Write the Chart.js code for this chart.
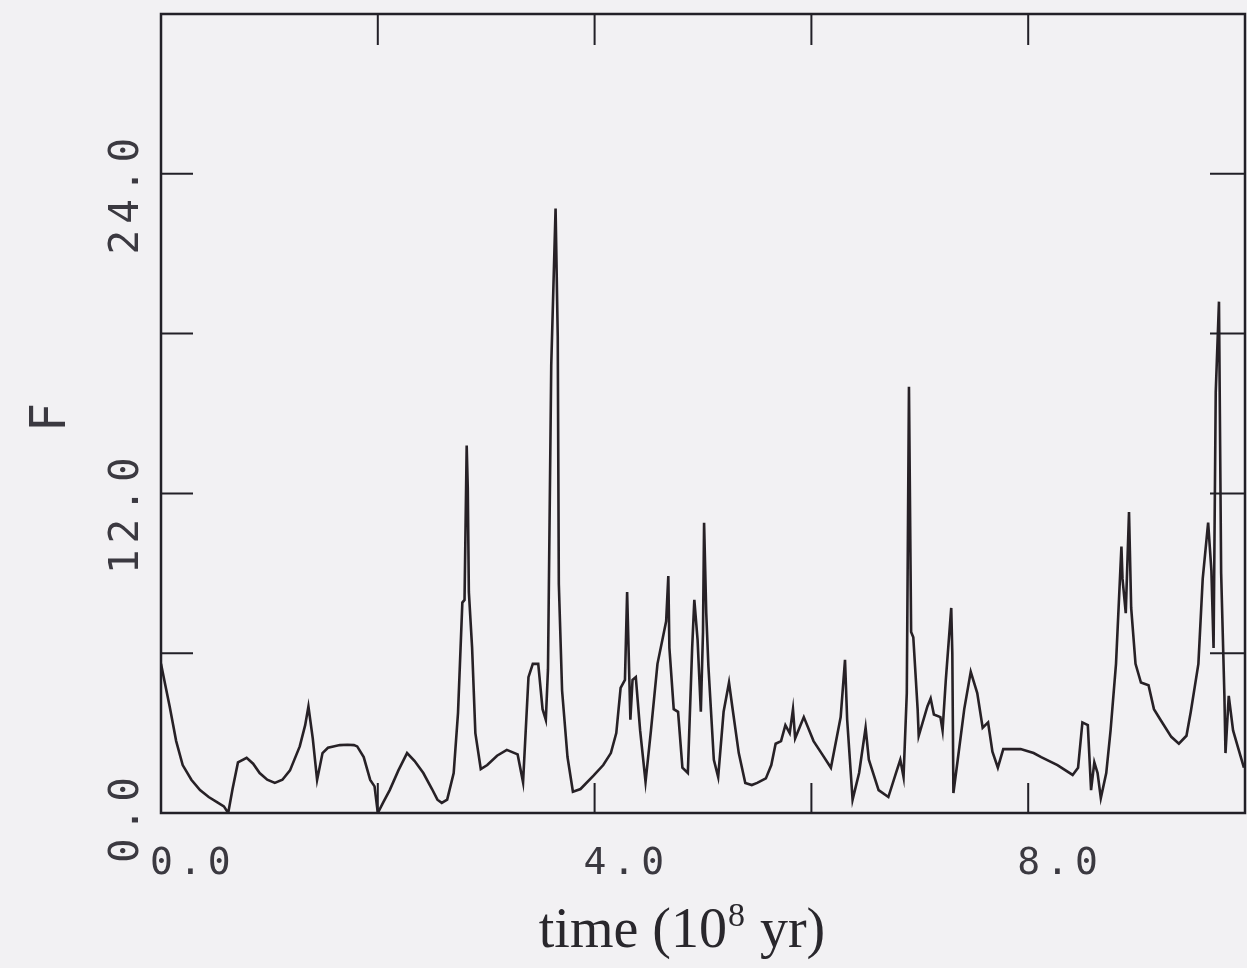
<!DOCTYPE html>
<html>
<head>
<meta charset="utf-8">
<script src="https://cdn.jsdelivr.net/npm/chart.js@4.4.1/dist/chart.umd.min.js"></script>
<style>
html, body { margin: 0; padding: 0; background: #f2f1f3; }
</style>
</head>
<body>
<canvas id="fluxChart" width="1247" height="968"></canvas>
<script>
// time in 10^8 yr, F
var timeVals = [0.00,0.04,0.08,0.14,0.20,0.28,0.36,0.44,0.52,0.58,0.62,0.66,0.71,0.79,0.85,0.91,0.98,1.05,1.12,1.19,
  1.28,1.33,1.36,1.40,1.44,1.49,1.54,1.59,1.65,1.72,1.78,1.81,1.87,1.93,1.97,2.00,2.05,2.11,2.19,2.27,
  2.34,2.42,2.50,2.55,2.59,2.64,2.70,2.74,2.78,2.80,2.82,2.83,2.84,2.87,2.90,2.95,3.01,3.10,3.19,3.29,
  3.34,3.39,3.43,3.48,3.52,3.55,3.57,3.60,3.64,3.66,3.67,3.70,3.75,3.80,3.87,3.99,4.08,4.15,4.20,4.24,
  4.28,4.30,4.33,4.35,4.38,4.42,4.47,4.52,4.58,4.64,4.66,4.68,4.69,4.73,4.77,4.81,4.86,4.90,4.92,4.95,
  4.98,5.00,5.01,5.03,5.05,5.10,5.14,5.19,5.24,5.27,5.33,5.39,5.45,5.50,5.58,5.63,5.67,5.72,5.76,5.80,
  5.83,5.85,5.89,5.93,6.02,6.10,6.18,6.27,6.31,6.33,6.38,6.44,6.50,6.53,6.62,6.71,6.78,6.82,6.85,6.88,
  6.90,6.92,6.94,6.98,6.99,7.07,7.10,7.13,7.19,7.21,7.24,7.29,7.30,7.31,7.35,7.41,7.47,7.53,7.58,7.63,
  7.67,7.72,7.77,7.93,8.05,8.12,8.27,8.41,8.46,8.50,8.55,8.58,8.61,8.64,8.67,8.72,8.76,8.81,8.86,8.87,
  8.90,8.93,8.95,8.99,9.04,9.11,9.16,9.22,9.32,9.39,9.46,9.50,9.57,9.61,9.66,9.69,9.71,9.73,9.76,9.78,
  9.81,9.82,9.85,9.89,9.94,9.99];
var fluxVals = [5.6,4.8,4.0,2.7,1.8,1.25,0.86,0.6,0.4,0.25,0.0,0.9,1.9,2.07,1.85,1.5,1.25,1.13,1.25,1.6,
  2.5,3.3,4.0,2.8,1.24,2.25,2.45,2.5,2.55,2.56,2.55,2.5,2.1,1.24,1.0,0.0,0.4,0.86,1.6,2.25,
  1.95,1.5,0.9,0.5,0.38,0.5,1.5,3.76,7.9,8.0,13.8,12.2,8.3,6.2,3.0,1.65,1.8,2.15,2.37,2.2,
  1.15,5.1,5.6,5.6,3.9,3.5,5.4,16.8,22.7,17.9,8.6,4.6,2.1,0.8,0.9,1.4,1.8,2.25,3.0,4.7,
  5.0,8.3,3.5,5.0,5.1,3.1,1.17,3.1,5.6,6.8,7.2,8.9,6.2,3.9,3.8,1.7,1.5,6.2,8.0,6.5,
  3.8,6.8,10.9,7.5,5.5,2.0,1.35,3.8,4.9,4.0,2.25,1.13,1.05,1.13,1.3,1.8,2.6,2.7,3.3,3.0,
  3.9,2.8,3.2,3.6,2.7,2.2,1.7,3.6,5.75,3.5,0.5,1.5,3.2,2.0,0.86,0.6,1.5,2.0,1.35,4.5,
  16.0,6.8,6.6,3.9,2.9,4.0,4.3,3.7,3.6,3.1,5.0,7.7,6.0,0.75,2.0,3.9,5.3,4.5,3.2,3.4,
  2.3,1.7,2.4,2.4,2.25,2.1,1.8,1.43,1.7,3.4,3.3,0.86,1.9,1.5,0.56,1.5,3.1,5.6,10.0,8.8,
  7.5,11.3,7.7,5.6,4.9,4.8,3.9,3.5,2.86,2.6,2.9,3.8,5.6,8.8,10.9,9.1,6.2,15.8,19.2,9.0,
  4.4,2.25,4.4,3.1,2.4,1.7];

var xTickVals = [2, 4, 6, 8];
var xLabelVals = [0, 4, 8];
var yTickVals = [6, 12, 18, 24];
var yLabelVals = [0, 12, 24];
var xTitle = ['time (10', '8', ' yr)'];
var yTitle = 'F';

var points = timeVals.map(function (t, i) { return { x: t, y: fluxVals[i] }; });

var framePlugin = {
  id: 'framePlugin',
  beforeDraw: function (chart) {
    var ctx = chart.ctx;
    ctx.save();
    ctx.fillStyle = '#f2f1f3';
    ctx.fillRect(0, 0, chart.width, chart.height);
    ctx.restore();
  },
  afterDraw: function (chart) {
    var ctx = chart.ctx, a = chart.chartArea;
    var xs = chart.scales.x, ys = chart.scales.y;
    ctx.save();
    ctx.strokeStyle = '#222027';
    ctx.lineWidth = 2.5;
    ctx.strokeRect(a.left, a.top, a.right - a.left, a.bottom - a.top);

    ctx.lineWidth = 2;
    ctx.beginPath();
    xTickVals.forEach(function (v) {
      var px = xs.getPixelForValue(v);
      ctx.moveTo(px, a.bottom); ctx.lineTo(px, a.bottom - 30);
      ctx.moveTo(px, a.top); ctx.lineTo(px, a.top + 31);
    });
    yTickVals.forEach(function (v) {
      var py = ys.getPixelForValue(v);
      ctx.moveTo(a.left, py); ctx.lineTo(a.left + 32, py);
      ctx.moveTo(a.right, py); ctx.lineTo(a.right - 35, py);
    });
    ctx.stroke();

    // tick labels
    ctx.fillStyle = '#3b3940';
    ctx.font = '38px "DejaVu Sans Mono"';
    ctx.letterSpacing = '6px';
    ctx.textAlign = 'left';
    ctx.textBaseline = 'middle';
    xLabelVals.forEach(function (v) {
      ctx.fillText(v.toFixed(1), xs.getPixelForValue(v) - 11, 864);
    });
    ctx.font = '41px "DejaVu Sans Mono"';
    ctx.textAlign = 'right';
    yLabelVals.forEach(function (v) {
      ctx.save();
      ctx.translate(127, ys.getPixelForValue(v) - 42);
      ctx.rotate(-Math.PI / 2);
      ctx.fillText(v.toFixed(1), 0, 0);
      ctx.restore();
    });
    ctx.letterSpacing = '0px';

    // y title
    ctx.save();
    ctx.translate(52, 417);
    ctx.rotate(-Math.PI / 2);
    ctx.textAlign = 'center';
    ctx.font = '50px "DejaVu Sans"';
    ctx.fillStyle = '#3b3940';
    ctx.fillText(yTitle, 0, 0);
    ctx.restore();

    // x title with superscript
    ctx.fillStyle = '#29272c';
    ctx.textAlign = 'left';
    ctx.textBaseline = 'alphabetic';
    var big = '56px "Liberation Serif"', small = '34px "Liberation Serif"';
    ctx.font = big; var w1 = ctx.measureText(xTitle[0]).width; var w3 = ctx.measureText(xTitle[2]).width;
    ctx.font = small; var w2 = ctx.measureText(xTitle[1]).width;
    var x0 = 682 - (w1 + w2 + 2 + w3) / 2, base = 947;
    ctx.font = big; ctx.fillText(xTitle[0], x0, base);
    ctx.font = small; ctx.fillText(xTitle[1], x0 + w1 + 1, base - 21);
    ctx.font = big; ctx.fillText(xTitle[2], x0 + w1 + w2 + 2, base);
    ctx.restore();
  }
};

new Chart(document.getElementById('fluxChart'), {
  type: 'scatter',
  data: {
    datasets: [{
      data: points,
      showLine: true,
      borderColor: '#272126',
      borderWidth: 2.6,
      pointRadius: 0,
      tension: 0
    }]
  },
  options: {
    responsive: false,
    animation: false,
    devicePixelRatio: 1,
    layout: { padding: { left: 161, right: 2, top: 14, bottom: 155 } },
    plugins: { legend: { display: false }, tooltip: { enabled: false } },
    scales: {
      x: {
        type: 'linear', min: 0, max: 10,
        ticks: { display: false },
        grid: { display: false },
        border: { display: false },
        afterFit: function (s) { s.height = 0; }
      },
      y: {
        type: 'linear', min: 0, max: 30,
        ticks: { display: false },
        grid: { display: false },
        border: { display: false },
        afterFit: function (s) { s.width = 0; }
      }
    }
  },
  plugins: [framePlugin]
});
</script>
</body>
</html>
